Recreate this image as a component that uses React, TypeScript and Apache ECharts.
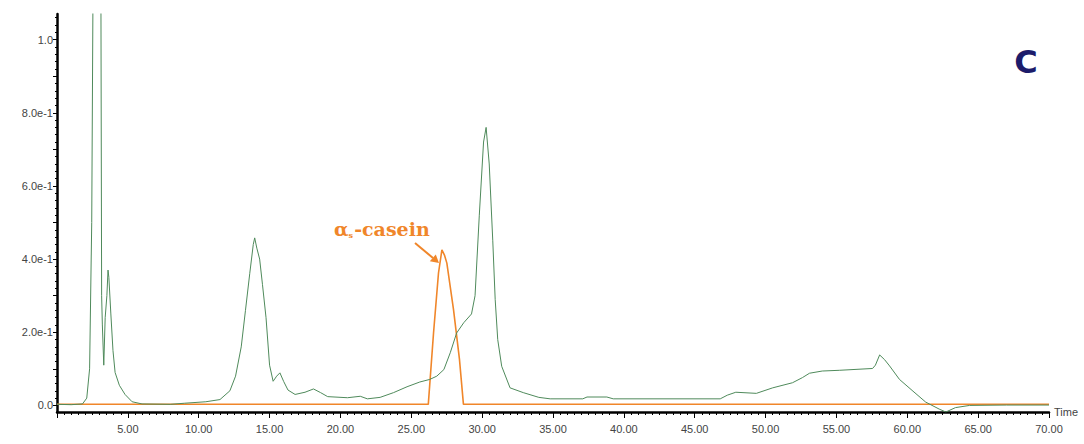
import React, { useEffect, useRef } from "react";
import * as echarts from "echarts";

// Time (min) / absorbance pairs
const sampleTrace: [number, number][] = [
  [0, 0.003], [1, 0.002], [1.8, 0.004], [2.1, 0.02], [2.3, 0.1], [2.45, 0.5], [2.55, 1.2],
  [2.7, 1.9], [2.85, 2.0], [3.0, 1.6], [3.1, 1.1], [3.15, 0.3], [3.2, 0.22], [3.3, 0.11],
  [3.4, 0.24], [3.52, 0.3], [3.6, 0.37], [3.66, 0.35], [3.8, 0.25], [3.95, 0.15], [4.1, 0.09],
  [4.4, 0.055], [4.8, 0.03], [5.3, 0.01], [6, 0.004], [8, 0.003], [9, 0.006], [10.5, 0.01],
  [11.5, 0.016], [12.2, 0.04], [12.6, 0.08], [13, 0.16], [13.3, 0.26], [13.6, 0.36],
  [13.85, 0.44], [13.95, 0.458], [14.1, 0.43], [14.3, 0.4], [14.5, 0.33], [14.75, 0.24],
  [15.0, 0.11], [15.25, 0.066], [15.5, 0.08], [15.73, 0.089], [16.0, 0.065], [16.3, 0.042],
  [16.8, 0.03], [17.5, 0.036], [18.1, 0.045], [18.6, 0.035], [19.1, 0.024], [20.5, 0.021],
  [21.4, 0.025], [21.9, 0.018], [22.8, 0.022], [23.75, 0.035], [24.7, 0.051], [25.6, 0.064],
  [26.3, 0.071], [26.8, 0.08], [27.3, 0.098], [27.75, 0.144], [28.2, 0.198], [28.7, 0.226],
  [29.25, 0.25], [29.5, 0.3], [29.8, 0.52], [30.1, 0.72], [30.28, 0.76], [30.5, 0.66],
  [30.75, 0.45], [30.92, 0.29], [31.1, 0.18], [31.38, 0.107], [31.97, 0.048], [32.9, 0.035],
  [34.0, 0.022], [34.8, 0.018], [37.1, 0.018], [37.4, 0.023], [38.8, 0.023], [39.25, 0.018],
  [46.8, 0.018], [47.3, 0.028], [47.9, 0.036], [49.35, 0.033], [50.5, 0.048], [51.9, 0.062],
  [52.6, 0.076], [53.1, 0.088], [54.0, 0.094], [55.2, 0.096], [57.55, 0.101], [57.75, 0.11],
  [58.05, 0.138], [58.4, 0.125], [58.75, 0.108], [59.45, 0.071], [60.4, 0.039], [61.3, 0.009],
  [62.25, -0.01], [62.72, -0.018], [63.4, -0.006], [64.4, 0.0], [67, 0.001], [70, 0.001],
];

const caseinTrace: [number, number][] = [
  [0, 0.003], [26.2, 0.003], [26.57, 0.198], [26.92, 0.362], [27.16, 0.425], [27.35, 0.41],
  [27.51, 0.389], [27.98, 0.262], [28.4, 0.126], [28.68, 0.003], [70, 0.003],
];

const yLabelValues = [0, 0.2, 0.4, 0.6, 0.8, 1.0];
const yMajorTicks = [0, 0.1, 0.2, 0.3, 0.4, 0.5, 0.6, 0.7, 0.8, 0.9, 1.0];
const yMinorTicks: number[] = [
  0, 0.02, 0.04, 0.06, 0.08, 0.1, 0.12, 0.14, 0.16, 0.18, 0.2, 0.22, 0.24, 0.26, 0.28, 0.3,
  0.32, 0.34, 0.36, 0.38, 0.4, 0.42, 0.44, 0.46, 0.48, 0.5, 0.52, 0.54, 0.56, 0.58, 0.6,
  0.62, 0.64, 0.66, 0.68, 0.7, 0.72, 0.74, 0.76, 0.78, 0.8, 0.82, 0.84, 0.86, 0.88, 0.9,
  0.92, 0.94, 0.96, 0.98, 1.0, 1.02, 1.04, 1.06,
];

const annotationLabel = "-casein";
const panelLetter = "C";

const GREEN = "#4f8a5b";
const ORANGE = "#f0862a";

function formatY(v: number): string {
  if (Math.abs(v) < 1e-9) return "0.0";
  if (v > 0.999) return "1.0";
  return (v * 10).toFixed(1) + "e-1";
}

export default function App() {
  const ref = useRef<HTMLDivElement>(null);

  useEffect(() => {
    if (!ref.current) return;
    const chart = echarts.init(ref.current, null, { renderer: "svg" });
    const font = "Liberation Sans";
    chart.setOption({
      animation: false,
      backgroundColor: "#ffffff",
      grid: { left: 57, right: 35, top: 14, bottom: 32, containLabel: false },
      xAxis: {
        type: "value",
        min: 0,
        max: 70,
        interval: 5,
        name: "Time",
        nameLocation: "end",
        nameGap: 5,
        nameTextStyle: { color: "#444", fontSize: 11, fontFamily: font },
        axisLine: { show: true, onZero: false, lineStyle: { color: "#000", width: 2.5 } },
        axisTick: { show: true, length: 6, lineStyle: { color: "#000", width: 1 } },
        minorTick: { show: true, splitNumber: 10, length: 3, lineStyle: { color: "#000", width: 1 } },
        axisLabel: {
          color: "#444",
          fontSize: 11,
          fontFamily: font,
          margin: 11,
          formatter: (v: number) => (v === 0 ? "" : v.toFixed(2)),
        },
        splitLine: { show: false },
        minorSplitLine: { show: false },
      },
      yAxis: [
        {
          type: "value",
          position: "left",
          min: -0.018,
          max: 1.07,
          axisLine: { show: true, lineStyle: { color: "#000", width: 2.5 } },
          axisTick: { show: true, length: 4, customValues: yMajorTicks, lineStyle: { color: "#000" } },
          axisLabel: {
            customValues: yLabelValues,
            formatter: formatY,
            color: "#444",
            fontSize: 11,
            fontFamily: font,
            margin: 4,
          },
          splitLine: { show: false },
        },
        {
          type: "value",
          position: "left",
          offset: 0,
          min: -0.018,
          max: 1.07,
          axisLine: { show: false },
          axisTick: { show: true, length: 2, customValues: yMinorTicks, lineStyle: { color: "#000" } },
          axisLabel: { show: false },
          splitLine: { show: false },
        },
      ],
      series: [
        {
          type: "line",
          name: "sample",
          data: sampleTrace,
          showSymbol: false,
          clip: true,
          lineStyle: { color: GREEN, width: 1 },
          z: 3,
        },
        {
          type: "line",
          name: "casein",
          data: caseinTrace,
          showSymbol: false,
          clip: true,
          lineStyle: { color: ORANGE, width: 1.6 },
          z: 2,
        },
      ],
      graphic: [
        {
          type: "text",
          x: 334,
          y: 229,
          style: {
            text: "{a|α}{s|s}{a|" + annotationLabel + "}",
            verticalAlign: "middle",
            rich: {
              a: { fontSize: 19, fontWeight: "bold", fontFamily: "DejaVu Serif", fill: ORANGE },
              s: { fontSize: 8, fontWeight: "bold", fontFamily: "DejaVu Serif", fill: ORANGE, padding: [11, 1, 0, 0] },
            },
          },
        },
        {
          type: "line",
          shape: { x1: 415, y1: 243, x2: 433, y2: 258 },
          style: { stroke: ORANGE, lineWidth: 2 },
        },
        {
          type: "polygon",
          shape: { points: [[439, 263], [429.8, 261.2], [435.8, 254.4]] },
          style: { fill: ORANGE },
        },
        {
          type: "text",
          x: 1026,
          y: 62,
          style: {
            text: panelLetter,
            align: "center",
            verticalAlign: "middle",
            fontSize: 32,
            fontWeight: "bold",
            fontFamily: "DejaVu Sans",
            fill: "#1c1c6b",
          },
        },
      ],
    });
    return () => chart.dispose();
  }, []);

  return (
    <div
      ref={ref}
      style={{ position: "fixed", left: 0, top: 0, width: 1084, height: 444, background: "#fff" }}
    />
  );
}
